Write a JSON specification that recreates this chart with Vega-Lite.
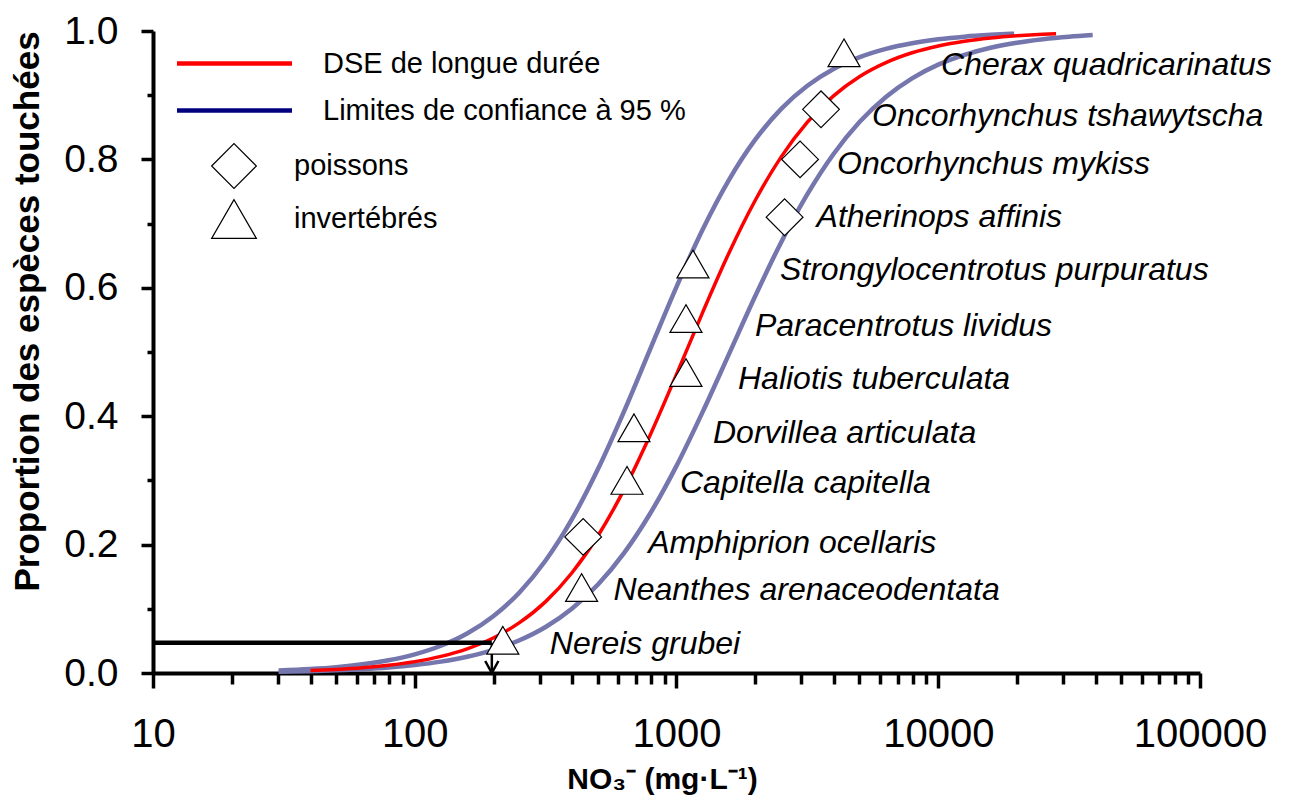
{
  "$schema": "https://vega.github.io/schema/vega-lite/v6.json",
  "width": 1047,
  "height": 642,
  "autosize": {"type": "none"},
  "padding": {"left": 153, "top": 31, "right": 97, "bottom": 130},
  "background": "white",
  "config": {
    "view": {"stroke": null},
    "font": "Liberation Sans",
    "axis": {"grid": false, "domainColor": "black", "domainWidth": 4, "tickColor": "black", "tickWidth": 3.5, "labelColor": "black", "titleColor": "black", "labelFont": "Liberation Sans", "titleFont": "Liberation Sans"},
    "legend": {"labelFont": "Liberation Sans", "labelColor": "black", "labelLimit": 0}
  },
  "datasets": {
    "curves": [
      {"curve": "sup", "conc": 30.2, "p": 0.0039},
      {"curve": "sup", "conc": 39.8, "p": 0.0062},
      {"curve": "sup", "conc": 50.1, "p": 0.0091},
      {"curve": "sup", "conc": 63.1, "p": 0.0135},
      {"curve": "sup", "conc": 79.4, "p": 0.0198},
      {"curve": "sup", "conc": 100, "p": 0.029},
      {"curve": "sup", "conc": 125.9, "p": 0.0424},
      {"curve": "sup", "conc": 158.5, "p": 0.0615},
      {"curve": "sup", "conc": 199.5, "p": 0.0884},
      {"curve": "sup", "conc": 251.2, "p": 0.1255},
      {"curve": "sup", "conc": 316.2, "p": 0.1752},
      {"curve": "sup", "conc": 398.1, "p": 0.2392},
      {"curve": "sup", "conc": 501.2, "p": 0.3176},
      {"curve": "sup", "conc": 631, "p": 0.4079},
      {"curve": "sup", "conc": 794.3, "p": 0.5049},
      {"curve": "sup", "conc": 1000, "p": 0.6015},
      {"curve": "sup", "conc": 1258.9, "p": 0.6908},
      {"curve": "sup", "conc": 1584.9, "p": 0.7678},
      {"curve": "sup", "conc": 1995.3, "p": 0.8303},
      {"curve": "sup", "conc": 2511.9, "p": 0.8787},
      {"curve": "sup", "conc": 3162.3, "p": 0.9147},
      {"curve": "sup", "conc": 3981.1, "p": 0.9408},
      {"curve": "sup", "conc": 5011.9, "p": 0.9592},
      {"curve": "sup", "conc": 6309.6, "p": 0.9721},
      {"curve": "sup", "conc": 7943.3, "p": 0.9809},
      {"curve": "sup", "conc": 10000, "p": 0.987},
      {"curve": "sup", "conc": 12589, "p": 0.9912},
      {"curve": "sup", "conc": 15849, "p": 0.994},
      {"curve": "sup", "conc": 19498, "p": 0.9958},
      {"curve": "inf", "conc": 30.2, "p": 0.0019},
      {"curve": "inf", "conc": 39.8, "p": 0.0029},
      {"curve": "inf", "conc": 50.1, "p": 0.0042},
      {"curve": "inf", "conc": 63.1, "p": 0.006},
      {"curve": "inf", "conc": 79.4, "p": 0.0086},
      {"curve": "inf", "conc": 100, "p": 0.0124},
      {"curve": "inf", "conc": 125.9, "p": 0.0177},
      {"curve": "inf", "conc": 158.5, "p": 0.0253},
      {"curve": "inf", "conc": 199.5, "p": 0.036},
      {"curve": "inf", "conc": 251.2, "p": 0.051},
      {"curve": "inf", "conc": 316.2, "p": 0.0717},
      {"curve": "inf", "conc": 398.1, "p": 0.1001},
      {"curve": "inf", "conc": 501.2, "p": 0.1379},
      {"curve": "inf", "conc": 631, "p": 0.1871},
      {"curve": "inf", "conc": 794.3, "p": 0.2488},
      {"curve": "inf", "conc": 1000, "p": 0.3226},
      {"curve": "inf", "conc": 1258.9, "p": 0.4067},
      {"curve": "inf", "conc": 1584.9, "p": 0.4964},
      {"curve": "inf", "conc": 1995.3, "p": 0.5864},
      {"curve": "inf", "conc": 2511.9, "p": 0.6711},
      {"curve": "inf", "conc": 3162.3, "p": 0.7458},
      {"curve": "inf", "conc": 3981.1, "p": 0.8085},
      {"curve": "inf", "conc": 5011.9, "p": 0.8587},
      {"curve": "inf", "conc": 6309.6, "p": 0.8973},
      {"curve": "inf", "conc": 7943.3, "p": 0.9263},
      {"curve": "inf", "conc": 10000, "p": 0.9476},
      {"curve": "inf", "conc": 12589, "p": 0.9629},
      {"curve": "inf", "conc": 15849, "p": 0.974},
      {"curve": "inf", "conc": 19953, "p": 0.9817},
      {"curve": "inf", "conc": 25119, "p": 0.9872},
      {"curve": "inf", "conc": 31623, "p": 0.9911},
      {"curve": "inf", "conc": 38905, "p": 0.9936}
    ],
    "dse": [
      {"serie": "DSE de longue durée", "conc": 40, "p": 0.0038},
      {"serie": "DSE de longue durée", "conc": 50.1, "p": 0.0056},
      {"serie": "DSE de longue durée", "conc": 63.1, "p": 0.0082},
      {"serie": "DSE de longue durée", "conc": 79.4, "p": 0.0121},
      {"serie": "DSE de longue durée", "conc": 100, "p": 0.0177},
      {"serie": "DSE de longue durée", "conc": 125.9, "p": 0.0259},
      {"serie": "DSE de longue durée", "conc": 158.5, "p": 0.0377},
      {"serie": "DSE de longue durée", "conc": 199.5, "p": 0.0545},
      {"serie": "DSE de longue durée", "conc": 251.2, "p": 0.0784},
      {"serie": "DSE de longue durée", "conc": 316.2, "p": 0.1112},
      {"serie": "DSE de longue durée", "conc": 398.1, "p": 0.1558},
      {"serie": "DSE de longue durée", "conc": 501.2, "p": 0.2138},
      {"serie": "DSE de longue durée", "conc": 631, "p": 0.286},
      {"serie": "DSE de longue durée", "conc": 794.3, "p": 0.3712},
      {"serie": "DSE de longue durée", "conc": 1000, "p": 0.4651},
      {"serie": "DSE de longue durée", "conc": 1258.9, "p": 0.5618},
      {"serie": "DSE de longue durée", "conc": 1584.9, "p": 0.6539},
      {"serie": "DSE de longue durée", "conc": 1995.3, "p": 0.7356},
      {"serie": "DSE de longue durée", "conc": 2511.9, "p": 0.8039},
      {"serie": "DSE de longue durée", "conc": 3162.3, "p": 0.8579},
      {"serie": "DSE de longue durée", "conc": 3981.1, "p": 0.899},
      {"serie": "DSE de longue durée", "conc": 5011.9, "p": 0.9292},
      {"serie": "DSE de longue durée", "conc": 6309.6, "p": 0.9508},
      {"serie": "DSE de longue durée", "conc": 7943.3, "p": 0.9661},
      {"serie": "DSE de longue durée", "conc": 10000, "p": 0.9767},
      {"serie": "DSE de longue durée", "conc": 12589, "p": 0.9841},
      {"serie": "DSE de longue durée", "conc": 15849, "p": 0.9891},
      {"serie": "DSE de longue durée", "conc": 19953, "p": 0.9926},
      {"serie": "DSE de longue durée", "conc": 25119, "p": 0.995},
      {"serie": "DSE de longue durée", "conc": 28184, "p": 0.9958}
    ],
    "points": [
      {"species": "Cherax quadricarinatus", "groupe": "invertébrés", "conc": 4365, "p": 0.966},
      {"species": "Oncorhynchus tshawytscha", "groupe": "poissons", "conc": 3565, "p": 0.878},
      {"species": "Oncorhynchus mykiss", "groupe": "poissons", "conc": 2965, "p": 0.8},
      {"species": "Atherinops affinis", "groupe": "poissons", "conc": 2588, "p": 0.71},
      {"species": "Strongylocentrotus purpuratus", "groupe": "invertébrés", "conc": 1156, "p": 0.637},
      {"species": "Paracentrotus lividus", "groupe": "invertébrés", "conc": 1087, "p": 0.552},
      {"species": "Haliotis tuberculata", "groupe": "invertébrés", "conc": 1087, "p": 0.468},
      {"species": "Dorvillea articulata", "groupe": "invertébrés", "conc": 688, "p": 0.382},
      {"species": "Capitella capitella", "groupe": "invertébrés", "conc": 647, "p": 0.3},
      {"species": "Amphiprion ocellaris", "groupe": "poissons", "conc": 440, "p": 0.212},
      {"species": "Neanthes arenaceodentata", "groupe": "invertébrés", "conc": 434, "p": 0.133},
      {"species": "Nereis grubei", "groupe": "invertébrés", "conc": 217, "p": 0.051}
    ],
    "hline": [{"conc": 10, "conc2": 197, "p": 0.047}],
    "vline": [{"conc": 197, "p": 0.047, "p2": 0.004}],
    "arrow": [{"conc": 197, "p": 0}]
  },
  "layer": [
    {
      "data": {"name": "curves"},
      "mark": {"type": "line", "interpolate": "monotone", "strokeWidth": 4.5, "color": "#7476AD"},
      "encoding": {
        "x": {
          "field": "conc", "type": "quantitative",
          "scale": {"type": "log", "domain": [10, 100000], "nice": false},
          "axis": {
            "values": [10, 20, 30, 40, 50, 60, 70, 80, 90, 100, 200, 300, 400, 500, 600, 700, 800, 900, 1000, 2000, 3000, 4000, 5000, 6000, 7000, 8000, 9000, 10000, 20000, 30000, 40000, 50000, 60000, 70000, 80000, 90000, 100000],
            "labelExpr": "(datum.value == 10 || datum.value == 100 || datum.value == 1000 || datum.value == 10000 || datum.value == 100000) ? '' + datum.value : ''",
            "tickSize": {"condition": {"test": "datum.value == 10 || datum.value == 100 || datum.value == 1000 || datum.value == 10000 || datum.value == 100000", "value": 15}, "value": 11},
            "labelFontSize": 40, "labelBaseline": "alphabetic", "labelPadding": 58,
            "labelOverlap": false, "labelFlush": false, "labelBound": false,
            "title": "NO₃⁻ (mg·L⁻¹)", "titleFontSize": 30, "titleFontWeight": "bold",
            "titleX": 509, "titleY": 115, "titleBaseline": "alphabetic", "titleAlign": "center", "titleAnchor": null
          }
        },
        "y": {
          "field": "p", "type": "quantitative",
          "scale": {"domain": [0, 1], "nice": false},
          "axis": {
            "values": [0, 0.1, 0.2, 0.3, 0.4, 0.5, 0.6, 0.7, 0.8, 0.9, 1],
            "labelExpr": "(datum.value == 0 || datum.value == 0.2 || datum.value == 0.4 || datum.value == 0.6 || datum.value == 0.8 || datum.value == 1) ? format(datum.value, '.1f') : ''",
            "tickSize": {"condition": {"test": "datum.value == 0 || datum.value == 0.2 || datum.value == 0.4 || datum.value == 0.6 || datum.value == 0.8 || datum.value == 1", "value": 12}, "value": 6},
            "labelFontSize": 39, "labelPadding": 23, "labelBaseline": "middle",
            "labelOverlap": false, "labelFlush": false, "labelBound": false,
            "title": "Proportion des espèces touchées", "titleFontSize": 35, "titleFontWeight": "bold",
            "titleX": -115, "titleY": 280, "titleBaseline": "alphabetic", "titleAlign": "center", "titleAngle": 270
          }
        },
        "detail": {"field": "curve"}
      }
    },
    {
      "data": {"name": "dse"},
      "mark": {"type": "line", "interpolate": "monotone", "strokeWidth": 3.5},
      "encoding": {
        "x": {"field": "conc", "type": "quantitative"},
        "y": {"field": "p", "type": "quantitative"},
        "color": {
          "field": "serie", "type": "nominal",
          "scale": {"domain": ["DSE de longue durée", "Limites de confiance à 95 %"], "range": ["#FF0000", "#00007F"]},
          "legend": {
            "orient": "none", "legendX": 56, "legendY": 7, "title": null, "padding": 0,
            "symbolType": "M-2.5,0L2.5,0", "symbolSize": 2116, "symbolStrokeWidth": 4.5,
            "labelFontSize": 29, "labelOffset": 63, "rowPadding": 6
          }
        }
      }
    },
    {
      "data": {"name": "hline"},
      "mark": {"type": "rule", "color": "black", "strokeWidth": 4.5},
      "encoding": {
        "x": {"field": "conc", "type": "quantitative"},
        "x2": {"field": "conc2"},
        "y": {"field": "p", "type": "quantitative"}
      }
    },
    {
      "data": {"name": "vline"},
      "mark": {"type": "rule", "color": "black", "strokeWidth": 2.5},
      "encoding": {
        "x": {"field": "conc", "type": "quantitative"},
        "y": {"field": "p", "type": "quantitative"},
        "y2": {"field": "p2"}
      }
    },
    {
      "data": {"name": "arrow"},
      "mark": {"type": "point", "shape": "M-0.55,-1L0,0L0.55,-1", "size": 576, "filled": false, "stroke": "black", "strokeWidth": 2.5, "opacity": 1},
      "encoding": {
        "x": {"field": "conc", "type": "quantitative"},
        "y": {"field": "p", "type": "quantitative"}
      }
    },
    {
      "data": {"name": "points"},
      "transform": [{"filter": "datum.groupe === 'invertébrés'"}],
      "mark": {"type": "point", "filled": false, "fill": "white", "strokeWidth": 1.2, "opacity": 1, "size": 1024},
      "encoding": {
        "x": {"field": "conc", "type": "quantitative"},
        "y": {"field": "p", "type": "quantitative"},
        "stroke": {
          "field": "groupe", "type": "nominal",
          "scale": {"domain": ["poissons", "invertébrés"], "range": ["black", "black"]},
          "legend": {
            "orient": "none", "legendX": 58, "legendY": 112, "title": null, "padding": 0,
            "symbolSize": 2000, "symbolStrokeWidth": 1.2,
            "labelFontSize": 29, "labelOffset": 37, "rowPadding": 5
          }
        },
        "shape": {
          "field": "groupe", "type": "nominal",
          "scale": {"domain": ["poissons", "invertébrés"], "range": ["diamond", "triangle-up"]},
          "legend": {
            "orient": "none", "legendX": 58, "legendY": 112, "title": null, "padding": 0,
            "symbolSize": 2000, "symbolStrokeWidth": 1.2,
            "labelFontSize": 29, "labelOffset": 37, "rowPadding": 5
          }
        }
      }
    },
    {
      "data": {"name": "points"},
      "transform": [{"filter": "datum.groupe === 'poissons'"}],
      "mark": {"type": "point", "filled": false, "fill": "white", "strokeWidth": 1.2, "opacity": 1, "size": 1350},
      "encoding": {
        "x": {"field": "conc", "type": "quantitative"},
        "y": {"field": "p", "type": "quantitative"},
        "stroke": {
          "field": "groupe", "type": "nominal",
          "scale": {"domain": ["poissons", "invertébrés"], "range": ["black", "black"]}
        },
        "shape": {
          "field": "groupe", "type": "nominal",
          "scale": {"domain": ["poissons", "invertébrés"], "range": ["diamond", "triangle-up"]}
        }
      }
    },
    {"data": {"name": "points"}, "transform": [{"filter": "datum.species === 'Cherax quadricarinatus'"}], "mark": {"type": "text", "align": "left", "baseline": "middle", "fontStyle": "italic", "fontSize": 32, "color": "black", "dx": 97, "dy": 12}, "encoding": {"x": {"field": "conc", "type": "quantitative"}, "y": {"field": "p", "type": "quantitative"}, "text": {"field": "species"}}},
    {"data": {"name": "points"}, "transform": [{"filter": "datum.species === 'Oncorhynchus tshawytscha'"}], "mark": {"type": "text", "align": "left", "baseline": "middle", "fontStyle": "italic", "fontSize": 32, "color": "black", "dx": 51, "dy": 7}, "encoding": {"x": {"field": "conc", "type": "quantitative"}, "y": {"field": "p", "type": "quantitative"}, "text": {"field": "species"}}},
    {"data": {"name": "points"}, "transform": [{"filter": "datum.species === 'Oncorhynchus mykiss'"}], "mark": {"type": "text", "align": "left", "baseline": "middle", "fontStyle": "italic", "fontSize": 32, "color": "black", "dx": 37, "dy": 5}, "encoding": {"x": {"field": "conc", "type": "quantitative"}, "y": {"field": "p", "type": "quantitative"}, "text": {"field": "species"}}},
    {"data": {"name": "points"}, "transform": [{"filter": "datum.species === 'Atherinops affinis'"}], "mark": {"type": "text", "align": "left", "baseline": "middle", "fontStyle": "italic", "fontSize": 32, "color": "black", "dx": 32, "dy": 0}, "encoding": {"x": {"field": "conc", "type": "quantitative"}, "y": {"field": "p", "type": "quantitative"}, "text": {"field": "species"}}},
    {"data": {"name": "points"}, "transform": [{"filter": "datum.species === 'Strongylocentrotus purpuratus'"}], "mark": {"type": "text", "align": "left", "baseline": "middle", "fontStyle": "italic", "fontSize": 32, "color": "black", "dx": 87, "dy": 6}, "encoding": {"x": {"field": "conc", "type": "quantitative"}, "y": {"field": "p", "type": "quantitative"}, "text": {"field": "species"}}},
    {"data": {"name": "points"}, "transform": [{"filter": "datum.species === 'Paracentrotus lividus'"}], "mark": {"type": "text", "align": "left", "baseline": "middle", "fontStyle": "italic", "fontSize": 32, "color": "black", "dx": 69, "dy": 7}, "encoding": {"x": {"field": "conc", "type": "quantitative"}, "y": {"field": "p", "type": "quantitative"}, "text": {"field": "species"}}},
    {"data": {"name": "points"}, "transform": [{"filter": "datum.species === 'Haliotis tuberculata'"}], "mark": {"type": "text", "align": "left", "baseline": "middle", "fontStyle": "italic", "fontSize": 32, "color": "black", "dx": 52, "dy": 6}, "encoding": {"x": {"field": "conc", "type": "quantitative"}, "y": {"field": "p", "type": "quantitative"}, "text": {"field": "species"}}},
    {"data": {"name": "points"}, "transform": [{"filter": "datum.species === 'Dorvillea articulata'"}], "mark": {"type": "text", "align": "left", "baseline": "middle", "fontStyle": "italic", "fontSize": 32, "color": "black", "dx": 79, "dy": 5}, "encoding": {"x": {"field": "conc", "type": "quantitative"}, "y": {"field": "p", "type": "quantitative"}, "text": {"field": "species"}}},
    {"data": {"name": "points"}, "transform": [{"filter": "datum.species === 'Capitella capitella'"}], "mark": {"type": "text", "align": "left", "baseline": "middle", "fontStyle": "italic", "fontSize": 32, "color": "black", "dx": 53, "dy": 3}, "encoding": {"x": {"field": "conc", "type": "quantitative"}, "y": {"field": "p", "type": "quantitative"}, "text": {"field": "species"}}},
    {"data": {"name": "points"}, "transform": [{"filter": "datum.species === 'Amphiprion ocellaris'"}], "mark": {"type": "text", "align": "left", "baseline": "middle", "fontStyle": "italic", "fontSize": 32, "color": "black", "dx": 65, "dy": 6}, "encoding": {"x": {"field": "conc", "type": "quantitative"}, "y": {"field": "p", "type": "quantitative"}, "text": {"field": "species"}}},
    {"data": {"name": "points"}, "transform": [{"filter": "datum.species === 'Neanthes arenaceodentata'"}], "mark": {"type": "text", "align": "left", "baseline": "middle", "fontStyle": "italic", "fontSize": 32, "color": "black", "dx": 32, "dy": 2}, "encoding": {"x": {"field": "conc", "type": "quantitative"}, "y": {"field": "p", "type": "quantitative"}, "text": {"field": "species"}}},
    {"data": {"name": "points"}, "transform": [{"filter": "datum.species === 'Nereis grubei'"}], "mark": {"type": "text", "align": "left", "baseline": "middle", "fontStyle": "italic", "fontSize": 32, "color": "black", "dx": 47, "dy": 4}, "encoding": {"x": {"field": "conc", "type": "quantitative"}, "y": {"field": "p", "type": "quantitative"}, "text": {"field": "species"}}}
  ]
}
